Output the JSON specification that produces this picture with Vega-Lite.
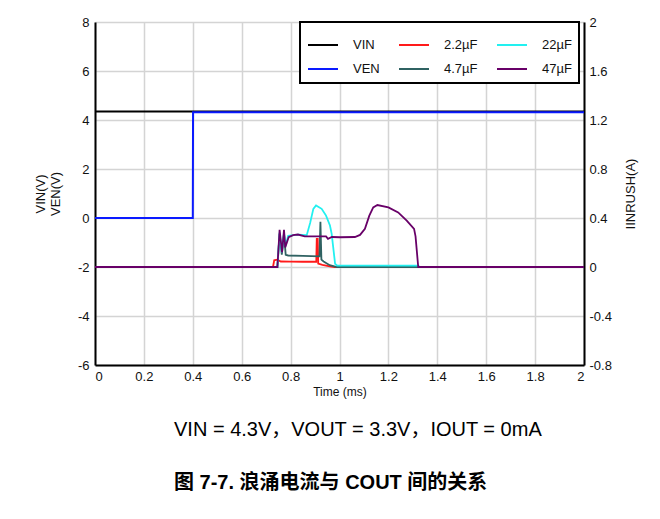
{
  "$schema": "https://vega.github.io/schema/vega-lite/v6.json",
  "width": 489,
  "height": 343,
  "autosize": "none",
  "padding": {"left": 95, "top": 22, "right": 76, "bottom": 154},
  "background": "white",
  "config": {
    "view": {"stroke": null},
    "font": "Liberation Sans",
    "axis": {
      "domainColor": "black",
      "domainWidth": 2,
      "ticks": false,
      "gridColor": "#d4d4d4",
      "gridWidth": 1.5,
      "labelFont": "Liberation Sans",
      "labelFontSize": 13,
      "labelColor": "#111",
      "titleFont": "Liberation Sans",
      "titleFontWeight": "normal",
      "titleColor": "#111"
    },
    "legend": {"strokeWidth": 2}
  },
  "title": {
    "text": "VIN = 4.3V，VOUT = 3.3V，IOUT = 0mA",
    "subtitle": "图 7-7. 浪涌电流与 COUT 间的关系",
    "orient": "bottom",
    "anchor": "start",
    "frame": "group",
    "dx": 79,
    "offset": 23,
    "font": "Liberation Sans, Noto Sans CJK SC",
    "fontSize": 20,
    "fontWeight": "normal",
    "color": "black",
    "subtitleFont": "Liberation Sans, Noto Sans CJK SC",
    "subtitleFontSize": 20,
    "subtitleFontWeight": "bold",
    "subtitleColor": "black",
    "subtitlePadding": 33
  },
  "datasets": {
    "volt": [
      {"s": "VIN", "t": 0, "v": 4.35},
      {"s": "VIN", "t": 2, "v": 4.35},
      {"s": "VEN", "t": 0, "v": 0},
      {"s": "VEN", "t": 0.4, "v": 0},
      {"s": "VEN", "t": 0.401, "v": 4.32},
      {"s": "VEN", "t": 2, "v": 4.32}
    ],
    "curr": [
      {"s": "2.2µF", "t": 0, "i": 0},
      {"s": "2.2µF", "t": 0.728, "i": 0},
      {"s": "2.2µF", "t": 0.733, "i": 0.055},
      {"s": "2.2µF", "t": 0.745, "i": 0.06},
      {"s": "2.2µF", "t": 0.76, "i": 0.045},
      {"s": "2.2µF", "t": 0.8, "i": 0.044},
      {"s": "2.2µF", "t": 0.85, "i": 0.043},
      {"s": "2.2µF", "t": 0.905, "i": 0.043},
      {"s": "2.2µF", "t": 0.907, "i": 0.23},
      {"s": "2.2µF", "t": 0.911, "i": 0.23},
      {"s": "2.2µF", "t": 0.913, "i": 0.028},
      {"s": "2.2µF", "t": 0.93, "i": 0.018},
      {"s": "2.2µF", "t": 0.96, "i": 0.005},
      {"s": "2.2µF", "t": 0.98, "i": 0},
      {"s": "2.2µF", "t": 2, "i": 0},
      {"s": "4.7µF", "t": 0, "i": 0},
      {"s": "4.7µF", "t": 0.746, "i": 0},
      {"s": "4.7µF", "t": 0.755, "i": 0.27},
      {"s": "4.7µF", "t": 0.764, "i": 0.1},
      {"s": "4.7µF", "t": 0.773, "i": 0.27},
      {"s": "4.7µF", "t": 0.78, "i": 0.1},
      {"s": "4.7µF", "t": 0.79, "i": 0.094},
      {"s": "4.7µF", "t": 0.85, "i": 0.09},
      {"s": "4.7µF", "t": 0.918, "i": 0.087},
      {"s": "4.7µF", "t": 0.922, "i": 0.37},
      {"s": "4.7µF", "t": 0.926, "i": 0.06},
      {"s": "4.7µF", "t": 0.935, "i": 0.045},
      {"s": "4.7µF", "t": 0.96, "i": 0.015},
      {"s": "4.7µF", "t": 0.99, "i": 0},
      {"s": "4.7µF", "t": 2, "i": 0},
      {"s": "22µF", "t": 0, "i": 0},
      {"s": "22µF", "t": 0.746, "i": 0},
      {"s": "22µF", "t": 0.755, "i": 0.28},
      {"s": "22µF", "t": 0.764, "i": 0.12},
      {"s": "22µF", "t": 0.773, "i": 0.28},
      {"s": "22µF", "t": 0.779, "i": 0.17},
      {"s": "22µF", "t": 0.79, "i": 0.255},
      {"s": "22µF", "t": 0.83, "i": 0.265},
      {"s": "22µF", "t": 0.866, "i": 0.26},
      {"s": "22µF", "t": 0.88, "i": 0.36},
      {"s": "22µF", "t": 0.893, "i": 0.475},
      {"s": "22µF", "t": 0.904, "i": 0.502},
      {"s": "22µF", "t": 0.927, "i": 0.475},
      {"s": "22µF", "t": 0.945, "i": 0.42},
      {"s": "22µF", "t": 0.961, "i": 0.339},
      {"s": "22µF", "t": 0.968, "i": 0.27},
      {"s": "22µF", "t": 0.982, "i": 0.026},
      {"s": "22µF", "t": 0.99, "i": 0.012},
      {"s": "22µF", "t": 1.32, "i": 0.012},
      {"s": "22µF", "t": 1.33, "i": 0},
      {"s": "22µF", "t": 2, "i": 0},
      {"s": "47µF", "t": 0, "i": 0},
      {"s": "47µF", "t": 0.746, "i": 0},
      {"s": "47µF", "t": 0.755, "i": 0.304},
      {"s": "47µF", "t": 0.765, "i": 0.12},
      {"s": "47µF", "t": 0.773, "i": 0.304},
      {"s": "47µF", "t": 0.778, "i": 0.16},
      {"s": "47µF", "t": 0.792, "i": 0.243},
      {"s": "47µF", "t": 0.81, "i": 0.26},
      {"s": "47µF", "t": 0.83, "i": 0.265},
      {"s": "47µF", "t": 0.858, "i": 0.25},
      {"s": "47µF", "t": 0.945, "i": 0.25},
      {"s": "47µF", "t": 0.953, "i": 0.23},
      {"s": "47µF", "t": 0.969, "i": 0.245},
      {"s": "47µF", "t": 1.002, "i": 0.243},
      {"s": "47µF", "t": 1.063, "i": 0.245},
      {"s": "47µF", "t": 1.084, "i": 0.262},
      {"s": "47µF", "t": 1.104, "i": 0.311},
      {"s": "47µF", "t": 1.122, "i": 0.419},
      {"s": "47µF", "t": 1.138, "i": 0.487},
      {"s": "47µF", "t": 1.155, "i": 0.506},
      {"s": "47µF", "t": 1.2, "i": 0.487},
      {"s": "47µF", "t": 1.24, "i": 0.446},
      {"s": "47µF", "t": 1.275, "i": 0.378},
      {"s": "47µF", "t": 1.305, "i": 0.311},
      {"s": "47µF", "t": 1.311, "i": 0.25},
      {"s": "47µF", "t": 1.322, "i": 0},
      {"s": "47µF", "t": 2, "i": 0}
    ]
  },
  "layer": [
    {
      "data": {"name": "volt"},
      "mark": {"type": "line", "strokeWidth": 2},
      "encoding": {
        "x": {
          "field": "t", "type": "quantitative",
          "scale": {"domain": [0, 2], "nice": false, "zero": false},
          "axis": {
            "values": [0, 0.2, 0.4, 0.6, 0.8, 1, 1.2, 1.4, 1.6, 1.8, 2],
            "labelExpr": "toString(datum.value)",
            "labelPadding": 5,
            "title": "Time (ms)",
            "titleFontSize": 12,
            "titlePadding": 3
          }
        },
        "y": {
          "field": "v", "type": "quantitative",
          "scale": {"domain": [-6, 8], "nice": false, "zero": false},
          "axis": {
            "orient": "left",
            "values": [-6, -4, -2, 0, 2, 4, 6, 8],
            "labelExpr": "toString(datum.value)",
            "labelPadding": 6,
            "title": ["VIN(V)", "VEN(V)"],
            "titleFontSize": 13,
            "titlePadding": 15
          }
        },
        "color": {
          "field": "s", "type": "nominal",
          "scale": {
            "domain": ["VIN", "VEN", "2.2µF", "4.7µF", "22µF", "47µF"],
            "range": ["#000000", "#0a1aff", "#ff1a1a", "#2f6262", "#22f0f0", "#680068"]
          },
          "legend": {
            "orient": "none",
            "legendX": 205,
            "legendY": 0,
            "columns": 3,
            "gridAlign": "each",
            "title": null,
            "symbolType": "stroke",
            "symbolSize": 900,
            "symbolStrokeWidth": 2,
            "labelFont": "Liberation Sans",
            "labelFontSize": 13,
            "labelColor": "#111",
            "labelOffset": 14,
            "columnPadding": 15,
            "rowPadding": 1,
            "padding": 7,
            "strokeColor": "black",
            "fillColor": "white"
          }
        }
      }
    },
    {
      "data": {"name": "curr"},
      "mark": {"type": "line", "strokeWidth": 1.8},
      "encoding": {
        "x": {"field": "t", "type": "quantitative"},
        "y": {
          "field": "i", "type": "quantitative",
          "scale": {"domain": [-0.8, 2], "nice": false, "zero": false},
          "axis": {
            "orient": "right",
            "values": [-0.8, -0.4, 0, 0.4, 0.8, 1.2, 1.6, 2],
            "labelExpr": "toString(datum.value)",
            "labelPadding": 5,
            "grid": false,
            "title": "IINRUSH(A)",
            "titleFontSize": 13,
            "titleAngle": 270,
            "titlePadding": 26
          }
        },
        "color": {"field": "s", "type": "nominal"}
      }
    }
  ],
  "resolve": {"scale": {"y": "independent"}}
}
